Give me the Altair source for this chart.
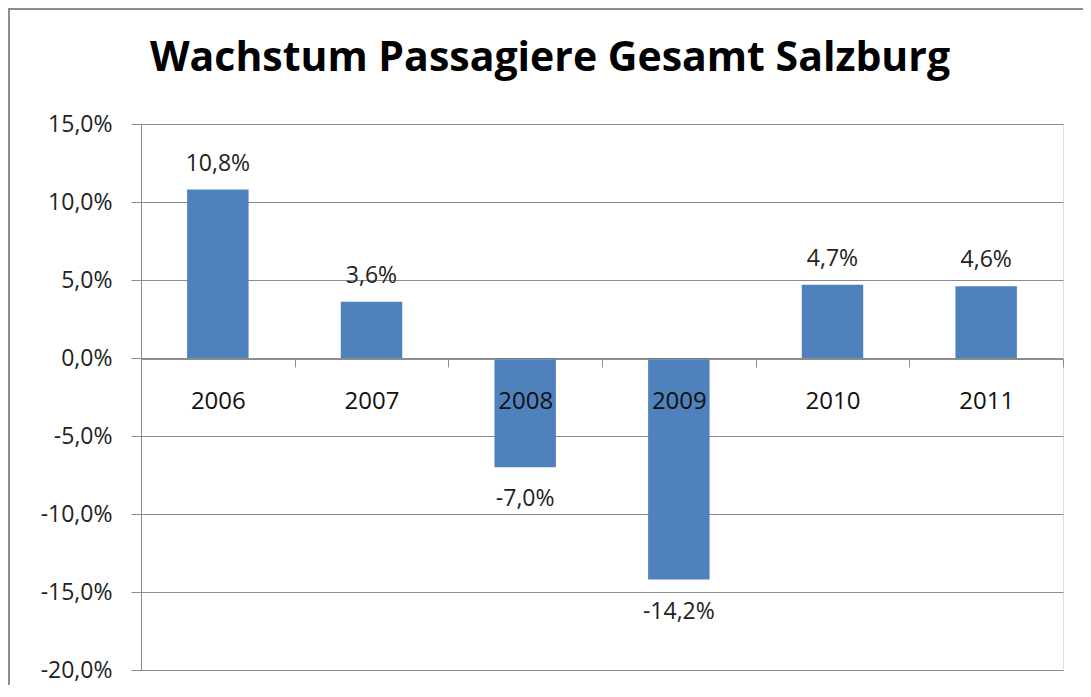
import altair as alt
import pandas as pd

years = ["2006", "2007", "2008", "2009", "2010", "2011"]
growth = [10.8, 3.6, -7.0, -14.2, 4.7, 4.6]
y_ticks = [-20, -15, -10, -5, 0, 5, 10, 15]
title_text = "Wachstum Passagiere Gesamt Salzburg"

df = pd.DataFrame({"Jahr": years, "Wachstum": growth})
df["label"] = [("%.1f" % v).replace(".", ",") + "%" for v in growth]

FONT = "Open Sans"
GRAY = "#8c8c8c"
STEP = 922 / 6

x_enc = alt.X("Jahr:N", sort=years,
              scale=alt.Scale(paddingInner=0.6, paddingOuter=0.3),
              axis=alt.Axis(title=None, offset=-311, tickOffset=STEP / 2,
                            labelOffset=-STEP / 2,
                            tickSize=8, tickColor=GRAY, domainColor=GRAY,
                            labelFont=FONT, labelFontSize=24, labelColor="#111111",
                            labelPadding=22, labelAngle=0, zindex=1, grid=False))
y_scale = alt.Scale(domain=[-20, 15], nice=False, zero=False)
y_enc = alt.Y("Wachstum:Q", scale=y_scale,
              axis=alt.Axis(title=None, values=y_ticks, tickSize=10, tickColor=GRAY,
                            domainColor=GRAY, gridColor=GRAY, gridOpacity=1, gridWidth=1,
                            labelFont=FONT, labelFontSize=23, labelColor="#222222",
                            labelPadding=19,
                            labelExpr="replace(replace(format(datum.value, '.1f'), '.', ','), '\u2212', '-') + '%'"))

frame = alt.Chart(df).mark_rect(fill=None, stroke=GRAY, strokeWidth=2).encode(
    x=alt.value(-132), x2=alt.value(1100), y=alt.value(-115), y2=alt.value(700))

bars = alt.Chart(df).mark_bar(color="#4F81BD").encode(
    x=x_enc, y=y_enc, y2=alt.datum(0))

labels_pos = alt.Chart(df).transform_filter("datum.Wachstum >= 0").mark_text(
    font=FONT, fontSize=23, color="#222222", baseline="alphabetic", dy=-19).encode(
    x=alt.X("Jahr:N", sort=years), y=alt.Y("Wachstum:Q", scale=y_scale), text="label:N")
labels_neg = alt.Chart(df).transform_filter("datum.Wachstum < 0").mark_text(
    font=FONT, fontSize=23, color="#222222", baseline="alphabetic", dy=39).encode(
    x=alt.X("Jahr:N", sort=years), y=alt.Y("Wachstum:Q", scale=y_scale), text="label:N")

chart = alt.layer(frame, bars, labels_pos, labels_neg).properties(
    width=922, height=546,
    padding={"left": 133, "top": 116, "right": 20, "bottom": 15},
    autosize=alt.AutoSizeParams(type="none"),
    title=alt.TitleParams(title_text, font=FONT, fontSize=41, fontWeight="bold",
                          color="#000000", anchor="middle", frame="group",
                          baseline="alphabetic", offset=-104, dx=-52),
).configure_view(stroke=None).configure(background="white")

chart.save("out.html", embed_options={"renderer": "svg", "actions": False})
